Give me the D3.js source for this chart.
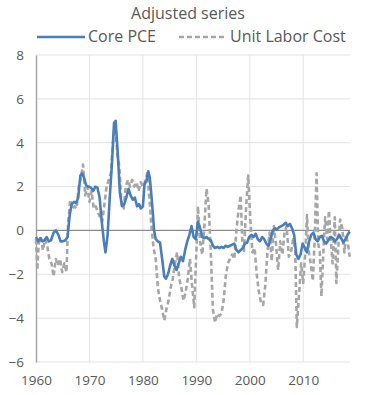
<!DOCTYPE html>
<html>
<head>
<meta charset="utf-8">
<script src="https://cdn.jsdelivr.net/npm/d3@7"></script>
<style>
  body { margin: 0; background: #fff; }
  text { font-family: "Open Sans", "Noto Sans", sans-serif; fill: #595959; }
</style>
</head>
<body>
<svg id="chart" width="365" height="395"></svg>
<script>
// Core PCE (adjusted)
const pceYears = [1960.0,1960.4,1960.8,1961.2,1961.6,1962.0,1962.4,1962.8,1963.3,1963.7,1964.2,1964.6,1965.0,1965.5,1965.9,
  1966.3,1966.7,1967.1,1967.5,1967.9,1968.3,1968.6,1969.0,1969.4,1969.8,1970.3,1970.7,1971.1,1971.5,1971.9,
  1972.3,1972.7,1973.0,1973.4,1973.8,1974.2,1974.6,1974.9,1975.3,1975.7,1976.1,1976.5,1976.9,1977.3,1977.7,
  1978.1,1978.5,1978.9,1979.3,1979.6,1980.0,1980.3,1980.7,1981.0,1981.3,1981.7,1982.1,1982.4,1982.8,1983.2,
  1983.6,1984.0,1984.3,1984.7,1985.1,1985.5,1985.9,1986.3,1986.7,1987.1,1987.5,1987.9,1988.3,1988.7,1989.1,
  1989.5,1989.9,1990.3,1990.7,1991.1,1991.5,1991.9,1992.3,1992.7,1993.1,1993.5,1993.9,1994.3,1994.7,1995.1,
  1995.5,1995.9,1996.3,1996.7,1997.1,1997.5,1997.9,1998.3,1998.7,1999.1,1999.5,1999.9,2000.3,2000.7,2001.1,
  2001.5,2001.9,2002.3,2002.7,2003.1,2003.5,2003.9,2004.3,2004.7,2005.1,2005.5,2005.9,2006.3,2006.7,2007.1,
  2007.5,2007.9,2008.3,2008.7,2009.1,2009.5,2009.9,2010.3,2010.7,2011.1,2011.5,2011.9,2012.3,2012.7,2013.1,
  2013.5,2013.9,2014.3,2014.7,2015.1,2015.5,2015.9,2016.3,2016.7,2017.1,2017.5,2017.9,2018.3,2018.7];
const pceValues = [-0.3,-0.5,-0.35,-0.5,-0.45,-0.3,-0.5,-0.45,-0.1,0.0,-0.2,-0.5,-0.5,-0.45,-0.3,
  0.7,1.2,1.3,1.25,1.5,2.5,2.6,2.4,2.05,2.0,1.95,1.8,2.0,1.95,1.5,
  0.4,-0.5,-1.0,-0.2,1.5,3.0,4.9,5.0,3.5,1.7,1.1,1.2,1.5,1.9,1.6,
  1.4,1.5,1.1,1.2,1.0,1.1,2.1,2.3,2.7,2.4,1.3,0.0,-0.4,-0.5,-0.55,
  -1.3,-2.1,-2.2,-2.0,-1.6,-1.3,-1.6,-1.8,-1.5,-1.2,-1.4,-0.9,-0.5,-0.2,0.2,
  -0.3,-0.4,0.4,0.1,-0.3,-0.35,-0.3,-0.4,-0.45,-0.7,-0.8,-0.75,-0.8,-0.75,-0.8,
  -0.7,-0.75,-0.7,-0.65,-0.6,-0.9,-1.0,-0.9,-0.8,-0.6,-0.55,-0.3,-0.2,-0.3,-0.15,
  -0.4,-0.5,-0.3,-0.4,-0.6,-0.7,-0.4,0.0,0.1,0.05,0.15,0.2,0.25,0.35,0.2,
  0.3,0.1,-0.2,-1.1,-1.3,-1.1,-0.6,-0.8,-1.0,-0.5,-0.2,-0.1,-0.4,-0.5,-0.3,
  -0.25,-0.5,-0.6,-0.45,-0.3,-0.35,-0.5,-0.4,-0.2,-0.35,-0.55,-0.4,-0.2,-0.05];

// Unit Labor Cost (adjusted)
const ulcYears = [1960.0,1960.25,1960.5,1960.9,1961.3,1961.7,1962.1,1962.5,1962.9,1963.3,1963.7,1964.1,1964.5,1964.9,1965.3,
  1965.7,1966.0,1966.4,1966.8,1967.2,1967.6,1968.0,1968.4,1968.8,1969.2,1969.6,1970.0,1970.4,1970.8,1971.2,
  1971.6,1972.0,1972.4,1972.8,1973.2,1973.6,1974.0,1974.4,1974.8,1975.2,1975.6,1976.0,1976.4,1976.8,1977.2,
  1977.6,1978.0,1978.4,1978.8,1979.2,1979.6,1980.0,1980.4,1980.8,1981.2,1981.6,1982.0,1982.4,1982.8,1983.2,
  1983.6,1984.0,1984.4,1984.8,1985.2,1985.6,1986.0,1986.4,1986.8,1987.2,1987.6,1988.0,1988.4,1988.8,1989.2,
  1989.6,1990.0,1990.3,1990.7,1991.1,1991.5,1991.9,1992.3,1992.7,1993.1,1993.5,1993.9,1994.3,1994.7,1995.1,
  1995.5,1995.9,1996.3,1996.7,1997.1,1997.5,1997.9,1998.3,1998.6,1998.9,1999.3,1999.7,2000.1,2000.5,2000.9,
  2001.3,2001.7,2002.1,2002.5,2002.9,2003.3,2003.7,2004.1,2004.5,2004.9,2005.3,2005.7,2006.1,2006.5,2006.9,
  2007.3,2007.7,2008.1,2008.5,2008.8,2009.2,2009.6,2010.0,2010.4,2010.7,2011.0,2011.4,2011.8,2012.1,2012.5,
  2012.8,2013.1,2013.4,2013.8,2014.1,2014.5,2014.8,2015.1,2015.5,2015.9,2016.2,2016.6,2016.9,2017.3,2017.7,
  2018.0,2018.3,2018.7];
const ulcValues = [-0.4,-1.8,-0.6,-0.3,-0.9,-0.4,-0.7,-1.3,-1.5,-2.1,-1.3,-1.6,-1.3,-1.9,-1.5,
  -1.9,0.3,1.4,1.0,1.1,1.0,2.0,2.4,3.0,1.6,2.0,1.3,1.8,1.0,1.1,
  0.8,0.6,0.4,1.2,2.0,2.3,2.6,4.0,5.0,3.5,2.9,1.2,1.0,2.0,2.3,
  2.0,2.3,2.0,2.2,1.8,2.2,2.0,2.2,2.6,1.5,0.2,-0.8,-1.3,-2.6,-3.2,
  -3.6,-4.1,-3.6,-3.2,-2.6,-2.2,-1.5,-1.0,-2.2,-2.6,-3.2,-2.8,-2.2,-1.3,-2.5,
  -3.5,-1.0,1.1,-0.5,-1.1,0.2,1.9,1.2,-1.0,-3.6,-4.2,-3.8,-3.9,-3.8,-3.2,
  -2.1,-1.5,-1.3,-1.1,-1.3,0.0,0.95,1.6,-0.5,-1.0,1.0,2.5,0.5,-1.0,-0.8,
  -2.0,-2.8,-3.3,-3.4,-2.5,-1.0,-0.1,-1.4,0.2,-0.6,-1.8,-0.5,-1.1,-0.1,0.2,
  -1.2,-1.0,-0.4,-0.9,-4.4,-3.0,-1.5,-2.4,-1.0,0.7,-0.9,-1.5,-2.3,-0.6,2.6,
  -0.6,-1.0,-3.0,-0.8,0.6,-0.4,0.9,-0.3,-1.5,0.6,-2.4,-0.6,0.5,0.1,-1.0,
  -0.2,-0.5,-1.2];

const yTicks = [-6, -4, -2, 0, 2, 4, 6, 8];
const xTicks = [1960, 1970, 1980, 1990, 2000, 2010];

const svg = d3.select("#chart");
const plotLeft = 36, plotRight = 350, plotTop = 55, plotBottom = 362;

const x = d3.scaleLinear().domain([1960, 2018.75]).range([plotLeft, plotRight]);
const y = d3.scaleLinear().domain([-6, 8]).range([plotBottom, plotTop]);

// gridlines
svg.append("g")
  .selectAll("line")
  .data(yTicks.filter(d => d !== 0))
  .enter().append("line")
  .attr("x1", plotLeft).attr("x2", plotRight)
  .attr("y1", d => y(d)).attr("y2", d => y(d))
  .attr("stroke", "#e3e3e3").attr("stroke-width", 1);

svg.append("g")
  .selectAll("line")
  .data(xTicks.slice(1))
  .enter().append("line")
  .attr("x1", d => x(d)).attr("x2", d => x(d))
  .attr("y1", plotTop).attr("y2", plotBottom)
  .attr("stroke", "#e3e3e3").attr("stroke-width", 1);

// y axis
const yAxis = svg.append("g")
  .attr("transform", `translate(${plotLeft},0)`)
  .call(d3.axisLeft(y).tickValues(yTicks).tickSize(0).tickPadding(12));
yAxis.select(".domain").attr("stroke", "#a6a6a6").attr("stroke-width", 1.5);
yAxis.selectAll("text").attr("font-size", "13.5px").style("font-family", "'Open Sans', sans-serif").attr("fill", "#595959");

// x axis (labels only)
const xAxis = svg.append("g")
  .attr("transform", `translate(0,${plotBottom})`)
  .call(d3.axisBottom(x).tickValues(xTicks).tickFormat(d3.format("d")).tickSize(0).tickPadding(13));
xAxis.select(".domain").remove();
xAxis.selectAll("text").attr("font-size", "13.5px").style("font-family", "'Open Sans', sans-serif").attr("fill", "#595959");

// zero line
svg.append("line")
  .attr("x1", plotLeft).attr("x2", plotRight)
  .attr("y1", y(0)).attr("y2", y(0))
  .attr("stroke", "#8c8c8c").attr("stroke-width", 1.3);

const line = d3.line().x(d => x(d[0])).y(d => y(d[1]));

svg.append("path")
  .datum(d3.zip(ulcYears, ulcValues))
  .attr("d", line)
  .attr("fill", "none")
  .attr("stroke", "#a6a6a6")
  .attr("stroke-width", 2.6)
  .attr("stroke-dasharray", "5,3")
  .attr("stroke-linejoin", "round");

svg.append("path")
  .datum(d3.zip(pceYears, pceValues))
  .attr("d", line)
  .attr("fill", "none")
  .attr("stroke", "#4a7ebb")
  .attr("stroke-width", 2.6)
  .attr("stroke-linejoin", "round");

// title
svg.append("text")
  .attr("x", 188).attr("y", 19)
  .attr("text-anchor", "middle")
  .attr("font-size", "16px")
  .text("Adjusted series");

// legend
svg.append("line")
  .attr("x1", 37).attr("x2", 85).attr("y1", 37).attr("y2", 37)
  .attr("stroke", "#4a7ebb").attr("stroke-width", 2.6);
svg.append("text")
  .attr("x", 88).attr("y", 42)
  .attr("font-size", "16px")
  .text("Core PCE");
svg.append("line")
  .attr("x1", 179).attr("x2", 227).attr("y1", 37).attr("y2", 37)
  .attr("stroke", "#a6a6a6").attr("stroke-width", 2.6)
  .attr("stroke-dasharray", "5,3");
svg.append("text")
  .attr("x", 230).attr("y", 42)
  .attr("font-size", "16px")
  .text("Unit Labor Cost");
</script>
</body>
</html>
